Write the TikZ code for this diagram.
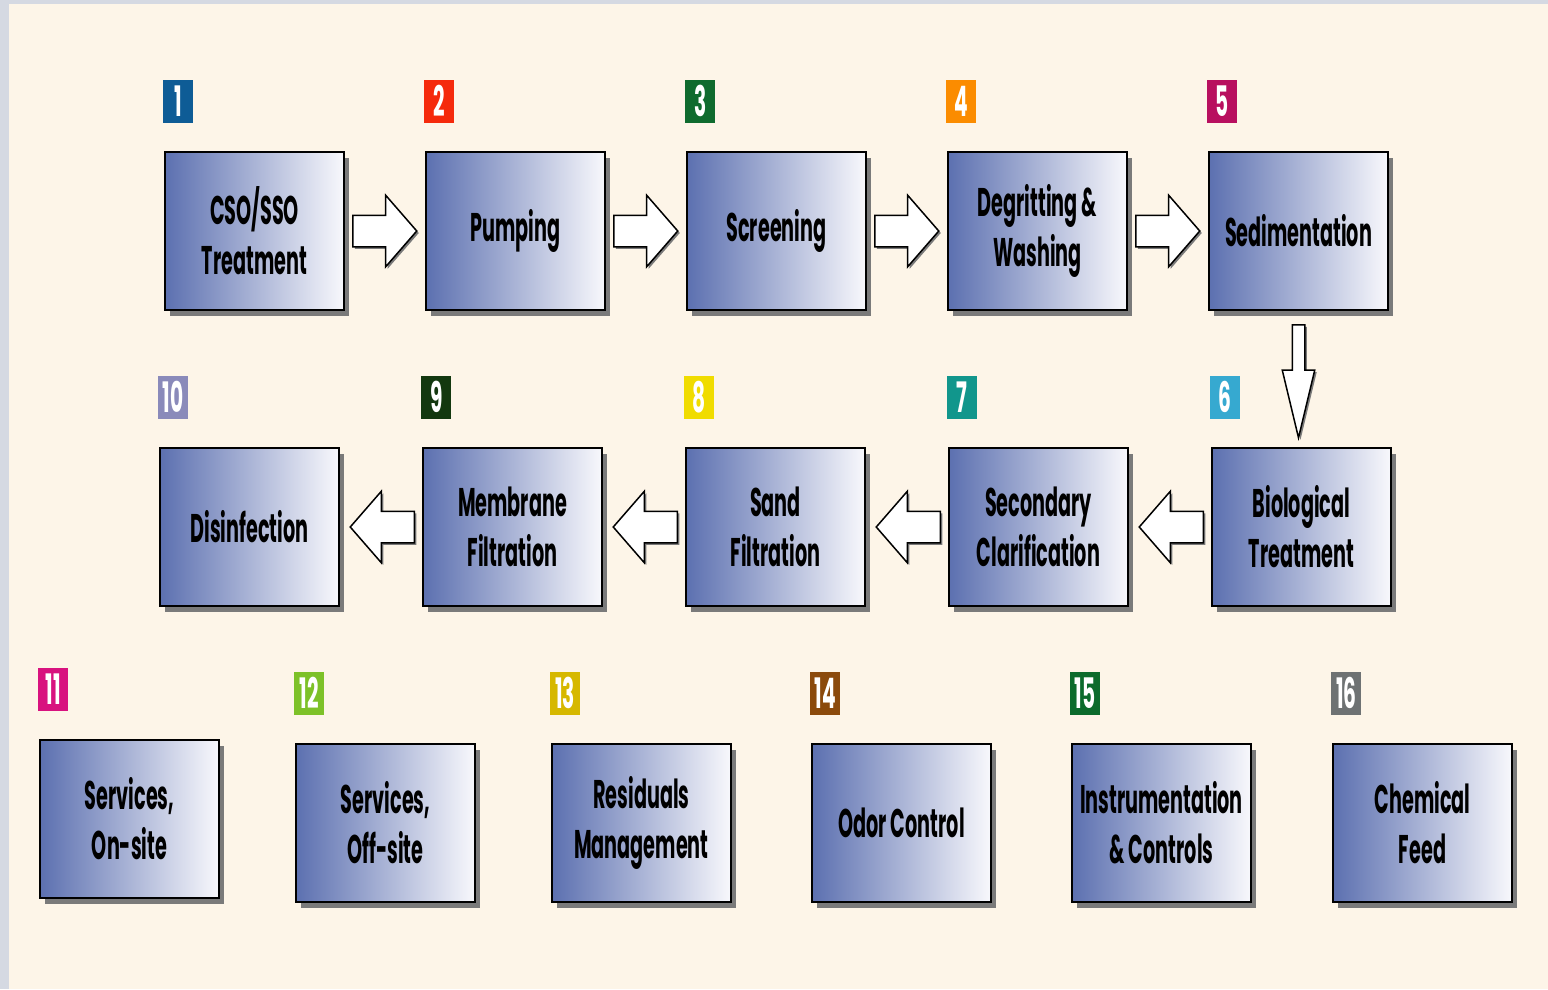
\documentclass[tikz,border=0pt]{standalone}
\usepackage{fontspec}
\newfontfamily\boxfont{Poppins}[FakeStretch=0.48]
\usetikzlibrary{shapes,arrows,positioning,calc,shadows}

\definecolor{pagegray}{RGB}{213,217,226}
\definecolor{cream}{RGB}{253,245,232}
\definecolor{boxblue}{RGB}{92,112,176}
\definecolor{boxwhite}{RGB}{248,248,252}
\definecolor{shadowgray}{RGB}{122,122,122}
\definecolor{bdgA}{RGB}{14,92,150}
\definecolor{bdgB}{RGB}{245,42,12}
\definecolor{bdgC}{RGB}{15,107,46}
\definecolor{bdgD}{RGB}{251,140,0}
\definecolor{bdgE}{RGB}{184,15,95}
\definecolor{bdgF}{RGB}{54,169,208}
\definecolor{bdgG}{RGB}{17,150,140}
\definecolor{bdgH}{RGB}{240,220,0}
\definecolor{bdgI}{RGB}{19,56,15}
\definecolor{bdgJ}{RGB}{138,138,186}
\definecolor{bdgK}{RGB}{216,18,127}
\definecolor{bdgL}{RGB}{125,193,40}
\definecolor{bdgM}{RGB}{214,184,0}
\definecolor{bdgN}{RGB}{139,74,12}
\definecolor{bdgO}{RGB}{12,107,44}
\definecolor{bdgP}{RGB}{110,114,115}

\begin{document}
\begin{tikzpicture}[x=1pt, y=-1pt,
  procbox/.style={draw=black, line width=2pt, rectangle, minimum width=179pt, minimum height=158pt,
    left color=boxblue, right color=boxwhite, align=center, inner sep=2pt,
    font={\boxfont\bfseries\fontsize{40}{50}\selectfont},
    drop shadow={shadow xshift=5pt, shadow yshift=-6pt, fill=shadowgray, opacity=1}},
  badge/.style={rectangle, minimum width=30pt, minimum height=43pt, inner sep=0pt, anchor=south west,
    text=white, font={\boxfont\bfseries\fontsize{42}{42}\selectfont}},
  flowarrow/.style={single arrow, draw=black, line width=1.5pt, fill=white, inner sep=15pt,
    minimum height=64pt, single arrow head extend=20pt, single arrow tip angle=98,
    drop shadow={shadow xshift=2pt, shadow yshift=-2pt, fill=shadowgray, opacity=1}},
  backarrow/.style={flowarrow, shape border rotate=180},
  downarrow/.style={flowarrow, shape border rotate=270, inner sep=5.5pt, minimum height=113pt,
    single arrow head extend=10pt, single arrow tip angle=27}]

% background
\fill[pagegray] (0,0) rectangle (1548,989);
\fill[cream] (9,4) rectangle (1548,989);
\useasboundingbox (0,0) rectangle (1548,989);

% first row
\node[procbox] (cso) at (254.5,231) {CSO/SSO\\Treatment};
\node[procbox, right=80pt of cso] (pump) {Pumping};
\node[procbox, right=80pt of pump] (screen) {Screening};
\node[procbox, right=80pt of screen] (degrit) {Degritting \&\\Washing};
\node[procbox, right=80pt of degrit] (sedim) {Sedimentation};

% second row, right to left
\node[procbox] (bio) at (1301.5,527) {Biological\\Treatment};
\node[procbox, left=82pt of bio] (secclar) {Secondary\\Clarification};
\node[procbox, left=82pt of secclar] (sand) {Sand\\Filtration};
\node[procbox, left=82pt of sand] (membr) {Membrane\\Filtration};
\node[procbox, left=82pt of membr] (disinf) {Disinfection};

% support units
\node[procbox] (servon) at (129.5,819) {Services,\\On-site};
\node[procbox, right=75pt of servon, yshift=-4pt] (servoff) {Services,\\Off-site};
\node[procbox, right=75pt of servoff] (resid) {Residuals\\Management};
\node[procbox, right=79pt of resid] (odor) {Odor Control};
\node[procbox, right=79pt of odor] (instr) {Instrumentation\\\& Controls};
\node[procbox, right=80pt of instr] (chem) {Chemical\\Feed};

% number tags
\foreach \b/\n/\c in {cso/1/bdgA, pump/2/bdgB, screen/3/bdgC, degrit/4/bdgD, sedim/5/bdgE,
    bio/6/bdgF, secclar/7/bdgG, sand/8/bdgH, membr/9/bdgI, disinf/10/bdgJ,
    servon/11/bdgK, servoff/12/bdgL, resid/13/bdgM, odor/14/bdgN, instr/15/bdgO, chem/16/bdgP}
  \node[badge, fill=\c, above right=28pt and -1pt of \b.north west] (n\n) {\n};

% flow arrows
\node[flowarrow, right=7pt of cso, anchor=tail] (a12) {};
\node[flowarrow, right=7pt of pump, anchor=tail] (a23) {};
\node[flowarrow, right=7pt of screen, anchor=tail] (a34) {};
\node[flowarrow, right=7pt of degrit, anchor=tail] (a45) {};
\node[downarrow, below=13pt of sedim, anchor=tail] (a56) {};
\node[backarrow, left=7pt of bio, anchor=tail] (a67) {};
\node[backarrow, left=7pt of secclar, anchor=tail] (a78) {};
\node[backarrow, left=7pt of sand, anchor=tail] (a89) {};
\node[backarrow, left=7pt of membr, anchor=tail] (a910) {};
\end{tikzpicture}
\end{document}
